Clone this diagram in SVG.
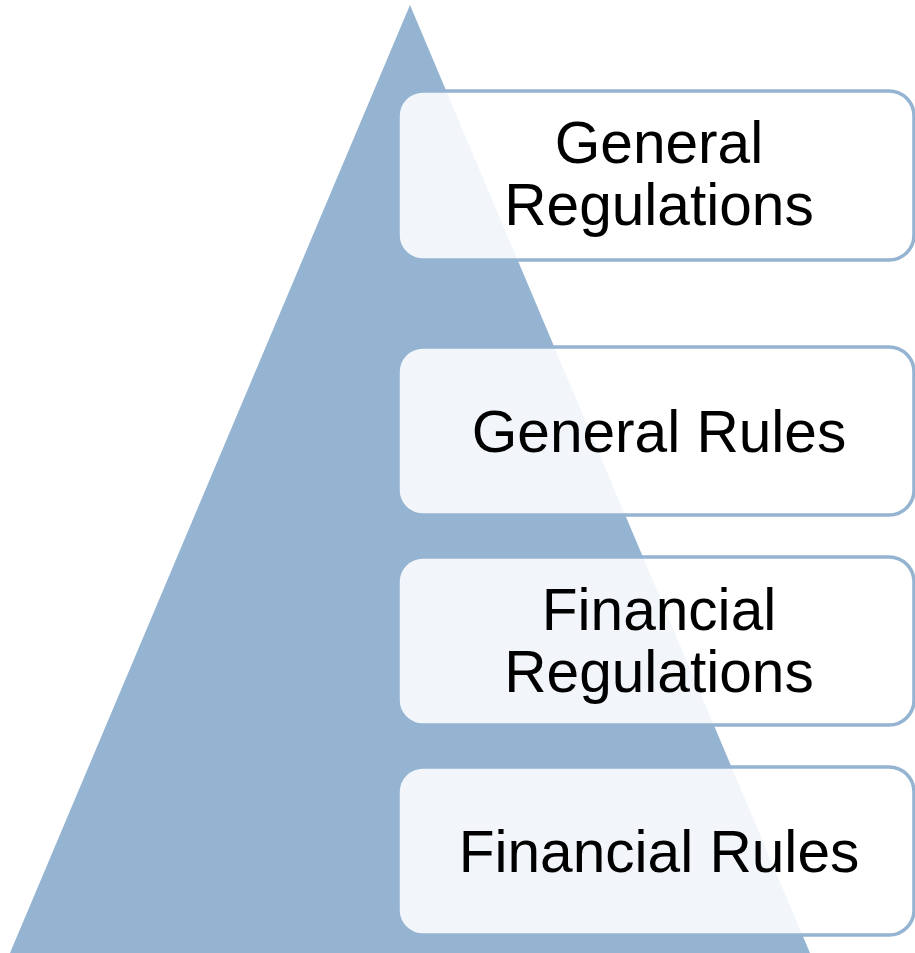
<svg xmlns="http://www.w3.org/2000/svg" width="915" height="953" viewBox="0 0 915 953">
<style>
.box{fill:#ffffff;fill-opacity:0.88;stroke:#94b4d2;stroke-width:3.5}
.lbl{font-family:"Liberation Sans",Arial,sans-serif;font-size:58.6px;fill:#000000;text-anchor:middle}
</style>
<rect width="915" height="953" fill="#ffffff"/>
<g id="pyramid">
<polygon points="410,5 10,953 810,953" fill="#94b4d2"/>
</g>
<g id="connectors"></g>
<g id="node-general-regulations">
<rect class="box" x="398" y="91" width="516" height="169" rx="25" ry="25"/>
<text class="lbl" x="659" y="163">General</text>
<text class="lbl" x="659" y="225">Regulations</text>
</g>
<g id="node-general-rules">
<rect class="box" x="398" y="347" width="516" height="168" rx="25" ry="25"/>
<text class="lbl" x="659" y="452">General Rules</text>
</g>
<g id="node-financial-regulations">
<rect class="box" x="398" y="557" width="516" height="168" rx="25" ry="25"/>
<text class="lbl" x="659" y="630">Financial</text>
<text class="lbl" x="659" y="692">Regulations</text>
</g>
<g id="node-financial-rules">
<rect class="box" x="398" y="767" width="516" height="168" rx="25" ry="25"/>
<text class="lbl" x="659" y="872">Financial Rules</text>
</g>
</svg>
